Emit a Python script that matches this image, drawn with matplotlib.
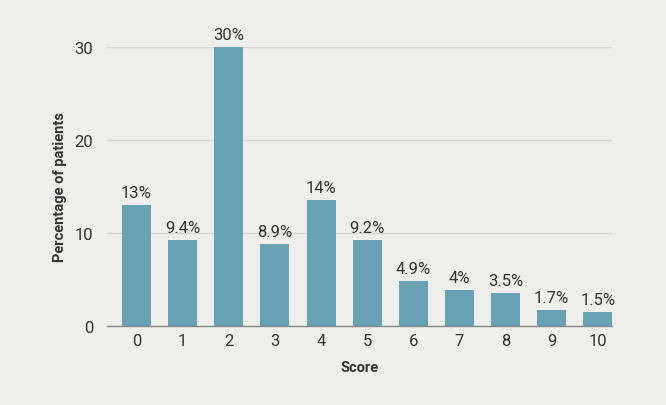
import matplotlib
matplotlib.use("Agg")
import matplotlib.pyplot as plt

# Data
scores = [0, 1, 2, 3, 4, 5, 6, 7, 8, 9, 10]
percent = [13, 9.2, 30, 8.8, 13.5, 9.2, 4.8, 3.9, 3.5, 1.7, 1.5]
labels = ['13%', '9.4%', '30%', '8.9%', '14%', '9.2%', '4.9%', '4%', '3.5%', '1.7%', '1.5%']

bg = '#eeeeec'
bar_color = '#6aa1b4'
text_color = '#333333'

plt.rcParams['font.family'] = ['Roboto', 'DejaVu Sans']

fig = plt.figure(figsize=(6.66, 4.06), dpi=100, facecolor=bg)
ax = fig.add_axes([0.1607, 0.1946, 0.919 - 0.1607, 0.8818 - 0.1946], facecolor=bg)

ax.bar(scores, percent, width=0.63, color=bar_color, zorder=2)
for x, y, lab in zip(scores, percent, labels):
    ax.text(x, y + 0.55, lab, ha='center', va='bottom', fontsize=12,
            color=text_color, clip_on=False)

ax.set_xlim(-0.64, 10.31)
ax.set_ylim(0, 30)
ax.set_yticks([0, 10, 20, 30])
ax.set_xticks(scores)
ax.grid(axis='y', color='#d6d6d6', linewidth=1, zorder=0)
ax.tick_params(length=0, labelsize=12, labelcolor=text_color)
ax.tick_params(axis='y', pad=10)
ax.tick_params(axis='x', pad=5)

for side in ['top', 'right', 'left']:
    ax.spines[side].set_visible(False)
ax.spines['bottom'].set_color('#888888')
ax.spines['bottom'].set_linewidth(1)
ax.spines['bottom'].set_zorder(3)

ax.set_xlabel('Score', fontsize=10.5, fontweight='bold', color=text_color, labelpad=9)
ax.set_ylabel('Percentage of patients', fontsize=10.5, fontweight='bold', color=text_color, labelpad=5)

fig.savefig('out.png', dpi=100, facecolor=bg)
